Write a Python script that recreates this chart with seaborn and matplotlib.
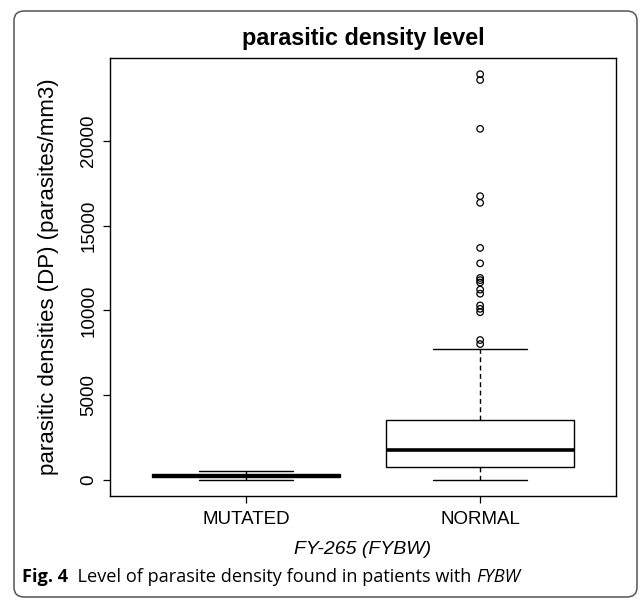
import numpy as np
import pandas as pd
import seaborn as sns
import matplotlib.pyplot as plt
from matplotlib.patches import FancyBboxPatch

# values (parasites/mm3)
groups = ["MUTATED", "NORMAL"]
# lower whisker, Q1, median, Q3, upper whisker
mutated_box = [20, 200, 270, 350, 550]
normal_box = [20, 760, 1800, 3570, 7750]
normal_outliers = [8020, 8260, 9900, 10100, 10300, 10990, 11230, 11650, 11790,
                   11920, 12780, 13690, 16350, 16740, 20710, 23590, 23930]

box_df = pd.DataFrame({
    "group": [groups[0]] * len(mutated_box) + [groups[1]] * len(normal_box),
    "value": mutated_box + normal_box,
})
out_df = pd.DataFrame({"group": [groups[1]] * len(normal_outliers),
                       "value": normal_outliers})

sns.set_style("white")
plt.rcParams['font.family'] = ['Liberation Sans', 'DejaVu Sans']
plt.rcParams.update({"text.color": "black", "axes.labelcolor": "black",
                     "xtick.color": "black", "ytick.color": "black"})

fig = plt.figure(figsize=(6.4, 6.0), dpi=100)
ax = fig.add_axes([110 / 640, 1 - 496 / 600, 506 / 640, 438 / 600])

sns.boxplot(data=box_df, x="group", y="value", order=groups, ax=ax,
            width=0.8, color="white", linecolor="black", linewidth=1.0,
            showfliers=False,
            medianprops=dict(linewidth=2.6),
            whiskerprops=dict(linestyle=(0, (3.5, 2.5))))
sns.stripplot(data=out_df, x="group", y="value", order=groups, ax=ax,
              jitter=False, marker="o", size=4.7, facecolor="none",
              edgecolor="black", linewidth=0.9)

# R style limits (4% padding)
lo = min(mutated_box + normal_box)
hi = max(normal_outliers)
pad = (hi - lo) * 0.04
ax.set_ylim(lo - pad, hi + pad)
ax.set_xlim(-0.58, 1.58)

ax.set_yticks([0, 5000, 10000, 15000, 20000])
ax.set_yticklabels(["0", "5000", "10000", "15000", "20000"],
                   rotation=90, va="center")
ax.set_xticks([0, 1])
ax.set_xticklabels(groups)
ax.tick_params(axis="both", direction="out", length=5, width=0.9,
               color="black", labelcolor="black", labelsize=13.5,
               left=True, bottom=True)
ax.tick_params(axis="x", pad=6)
ax.tick_params(axis="y", pad=4)

for s in ax.spines.values():
    s.set_visible(True)
    s.set_color("black")
    s.set_linewidth(1.0)

ax.set_ylabel("parasitic densities (DP) (parasites/mm3)", fontsize=16,
              color="black")
ax.yaxis.set_label_coords(-0.1, 0.5)
ax.set_xlabel("FY-265 (FYBW)", fontsize=14, style="italic", color="black")
ax.xaxis.set_label_coords(0.5, -0.103)
ax.set_title("parasitic density level", fontsize=16.8, fontweight="bold",
             pad=9, color="black")

# caption and frame of the figure panel
fig.patches.append(FancyBboxPatch((14 / 640, 3 / 600), 623 / 640, 586 / 600,
                                  boxstyle="round,pad=0,rounding_size=0.016",
                                  transform=fig.transFigure, fill=False,
                                  edgecolor="#555555", linewidth=1.1))

cap_font = ["Open Sans", "DejaVu Sans"]
cap_size = 13.1
renderer = fig.canvas.get_renderer()
y_cap = 1 - 577 / 600
t1 = fig.text(22 / 640, y_cap, "Fig. 4", fontsize=cap_size, fontweight="bold",
              family=cap_font, va="center")
x = t1.get_window_extent(renderer).x1 / fig.bbox.width
t2 = fig.text(x, y_cap, "  Level of parasite density found in patients with ",
              fontsize=cap_size, family=cap_font, va="center")
x = t2.get_window_extent(renderer).x1 / fig.bbox.width
fig.text(x, y_cap, "FYBW", fontsize=cap_size, style="italic", family=cap_font,
         va="center")

fig.savefig("out.png", dpi=100)
